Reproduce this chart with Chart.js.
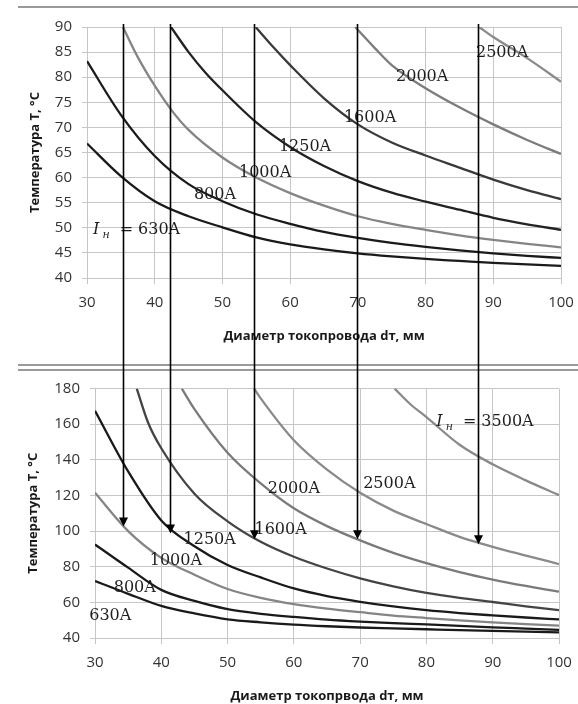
<!DOCTYPE html>
<html>
<head>
<meta charset="utf-8">
<script src="https://cdn.jsdelivr.net/npm/chart.js@4.4.1/dist/chart.umd.min.js"></script>
<style>
  html, body { margin: 0; padding: 0; background: #fff; }
  #page { position: relative; width: 578px; height: 704px; overflow: hidden; background: #fff; }
  .rule { position: absolute; left: 18px; right: 0; height: 2px; background: #9a9a9a; }
  canvas { position: absolute; left: 0; }
</style>
</head>
<body>
<div id="page">
  <div class="rule" style="top:6px"></div>
  <div class="rule" style="top:364px"></div>
  <div class="rule" style="top:369px"></div>
  <canvas id="topC" width="578" height="352" style="top:0px"></canvas>
  <canvas id="botC" width="578" height="344" style="top:360px"></canvas>
  <canvas id="ov" style="top:0px;width:578px;height:704px;pointer-events:none"></canvas>
</div>
<script>
// ---------------- DATA ----------------
// Top chart (T, °C vs d, mm)
const topXTicks = [30, 40, 50, 60, 70, 80, 90, 100];
const topYTicks = [40, 45, 50, 55, 60, 65, 70, 75, 80, 85, 90];
const stdX = [30, 35, 40, 45, 50, 55, 60, 65, 70, 75, 80, 85, 90, 95, 100];

const top630X = stdX;
const top630T = [66.8, 60.3, 55.3, 52.3, 50.1, 48.1, 46.7, 45.7, 44.9, 44.3, 43.8, 43.4, 43.0, 42.7, 42.4];
const top800X = stdX;
const top800T = [83.2, 72.5, 64.3, 58.7, 55.3, 52.7, 50.8, 49.2, 48.0, 47.0, 46.2, 45.5, 44.9, 44.4, 44.0];
const top1000X = [35.3, 37.5, 40, 42.5, 45, 50, 55, 60, 65, 70, 75, 80, 85, 90, 95, 100];
const top1000T = [90, 84.0, 78.3, 73.4, 69.5, 64.0, 60.0, 56.9, 54.4, 52.3, 50.8, 49.6, 48.5, 47.6, 46.8, 46.1];
const top1250X = [42.4, 45, 47.5, 50, 55, 60, 65, 70, 75, 80, 85, 90, 95, 100];
const top1250T = [90, 85.0, 80.9, 77.4, 71.0, 66.1, 62.3, 59.3, 57.0, 55.2, 53.6, 52.0, 50.7, 49.6];
const top1600X = [54.9, 57.5, 60, 65, 70, 75, 80, 85, 90, 95, 100];
const top1600T = [90, 86.0, 82.4, 75.8, 70.6, 67.0, 64.4, 62.0, 59.6, 57.5, 55.7];
const top2000X = [69.6, 72.5, 75, 80, 85, 90, 95, 100];
const top2000T = [90, 85.8, 82.4, 77.8, 74.0, 70.6, 67.5, 64.7];
const top2500X = [87.9, 90, 95, 100];
const top2500T = [90, 88.0, 83.8, 79.1];

const topLabelText = ['800A', '1000A', '1250A', '1600A', '2000A', '2500A'];
const topLabelX = [48.9, 56.3, 62.2, 71.8, 79.5, 91.3];
const topLabelT = [56.5, 60.9, 66.1, 71.9, 80.0, 84.8];
const topMainLabel = { x: 30.9, t: 49.6, value: '630A' };

// Bottom chart
const botXTicks = [30, 40, 50, 60, 70, 80, 90, 100];
const botYTicks = [40, 60, 80, 100, 120, 140, 160, 180];

const bot630X = stdX;
const bot630T = [72.0, 64.8, 58.0, 53.8, 50.5, 48.8, 47.5, 46.6, 45.9, 45.4, 44.9, 44.4, 44.0, 43.6, 43.2];
const bot800X = stdX;
const bot800T = [92.5, 79.5, 67.0, 60.8, 56.2, 53.6, 51.8, 50.3, 49.2, 48.3, 47.6, 46.8, 46.0, 45.3, 44.6];
const bot1000X = stdX;
const bot1000T = [121.5, 100.0, 85.0, 75.5, 67.5, 62.5, 59.0, 56.5, 54.5, 52.6, 51.2, 49.9, 48.8, 47.8, 46.9];
const bot1250X = stdX;
const bot1250T = [167.5, 133.5, 106.0, 91.5, 81.0, 74.0, 67.8, 63.5, 60.3, 57.7, 55.6, 54.0, 52.7, 51.5, 50.4];
const bot1600X = [36.3, 38, 40, 45, 50, 55, 60, 65, 70, 75, 80, 85, 90, 95, 100];
const bot1600T = [180, 161, 146.5, 121, 105.5, 94.0, 85.6, 79.0, 73.5, 69.0, 65.3, 62.5, 60.2, 57.8, 55.6];
const bot2000X = [43.1, 45, 50, 55, 60, 65, 70, 75, 80, 85, 90, 95, 100];
const bot2000T = [180, 168.5, 144.0, 126.8, 112.8, 102.8, 94.8, 87.8, 82.0, 77.0, 72.8, 69.2, 66.0];
const bot2500X = [54, 55, 60, 65, 70, 75, 80, 85, 90, 95, 100];
const bot2500T = [180, 174.5, 151, 134.5, 121.5, 111.5, 104, 96.8, 91.2, 86.3, 81.5];
const bot3500X = [75.2, 77.5, 80, 85, 90, 95, 100];
const bot3500T = [180, 171.5, 164, 148.5, 137.5, 128.5, 120.2];

const botLabelText = ['630A', '800A', '1000A', '1250A', '1600A', '2000A', '2500A'];
const botLabelX = [32.3, 36.0, 42.2, 47.3, 58.0, 60.0, 74.4];
const botLabelT = [52.2, 68.3, 83.5, 95.3, 100.7, 124.0, 126.3];
const botMainLabel = { x: 81.5, t: 161.4, value: '3500A' };

// Arrows: x in top-chart units, tip in bottom-chart °C
const arrowX = [35.3, 42.3, 54.7, 69.9, 87.8];
const arrowTipT = [102.6, 98.6, 95.4, 95.4, 92.6];

// ---------------- STYLE ----------------
const BLACK = '#1a1a1a', DARK = '#3a3a3a', GREY = '#858585';
const GRID = '#c6c6c6';
const tickFont = { family: '"Open Sans", "DejaVu Sans", sans-serif', size: 15 };
const titleFont = { family: '"Open Sans", "DejaVu Sans", sans-serif', size: 13, weight: 'bold' };
const SERIF = '"DejaVu Serif", "Liberation Serif", serif';

const labelPlugin = {
  id: 'curveLabels',
  afterDatasetsDraw(chart, args, o) {
    const { ctx } = chart;
    const xs = chart.scales.x, ys = chart.scales.y;
    ctx.save();
    ctx.fillStyle = '#1e1e1e';
    ctx.textBaseline = 'middle';
    ctx.textAlign = 'center';
    ctx.font = '16px ' + SERIF;
    o.texts.forEach((t, i) => {
      ctx.fillText(t, xs.getPixelForValue(o.xs[i]), ys.getPixelForValue(o.ts[i]));
    });
    // "I_н = ..." label
    const m = o.main;
    let px = xs.getPixelForValue(m.x);
    const py = ys.getPixelForValue(m.t);
    ctx.textAlign = 'left';
    ctx.font = 'italic 16px ' + SERIF;
    ctx.fillText('I', px, py);
    px += ctx.measureText('I').width + 3;
    ctx.font = 'italic 11px ' + SERIF;
    ctx.fillText('н', px, py + 5);
    px += ctx.measureText('н').width + 10;
    ctx.font = '16px ' + SERIF;
    ctx.fillText('=', px, py);
    px += ctx.measureText('=').width + 5;
    ctx.fillText(m.value, px, py);
    ctx.restore();
  }
};

function ds(xArr, tArr, color) {
  return {
    data: xArr.map((v, i) => ({ x: v, y: tArr[i] })),
    borderColor: color, borderWidth: 2.3, pointRadius: 0, fill: false,
    cubicInterpolationMode: 'monotone'
  };
}

function makeChart(canvas, c) {
  return new Chart(canvas, {
    type: 'line',
    data: { datasets: c.datasets },
    options: {
      responsive: false, animation: false, events: [],
      layout: { padding: { left: 0, top: c.padTop, right: c.padRight, bottom: 0 } },
      plugins: { legend: { display: false }, tooltip: { enabled: false }, curveLabels: c.labels },
      scales: {
        x: {
          type: 'linear', min: 30, max: 100,
          afterBuildTicks: s => { s.ticks = c.xTicks.map(v => ({ value: v })); },
          afterFit: s => { s.height = c.xAxisH; },
          grid: { color: GRID, tickLength: c.xTickLen, tickBorderDash: [5, 60] },
          border: { color: GRID },
          ticks: { font: tickFont, color: '#333', padding: 0, maxRotation: 0, autoSkip: false },
          title: { display: true, text: c.xTitle, font: titleFont, color: '#1a1a1a', padding: { top: 0, bottom: c.xTitlePad } }
        },
        y: {
          type: 'linear', min: c.yMin, max: c.yMax,
          afterBuildTicks: s => { s.ticks = c.yTicks.map(v => ({ value: v })); },
          afterFit: s => { s.width = c.yAxisW; },
          grid: { color: GRID, tickLength: 5 },
          border: { color: GRID },
          ticks: { font: tickFont, color: '#333', padding: 10 },
          title: { display: true, text: 'Температура Т, °С', font: titleFont, color: '#1a1a1a', padding: { top: c.yTitlePad, bottom: 0 } }
        }
      }
    },
    plugins: [labelPlugin]
  });
}

const topCanvas = document.getElementById('topC');
const botCanvas = document.getElementById('botC');

const topChart = makeChart(topCanvas, {
  datasets: [
    ds(top630X, top630T, BLACK), ds(top800X, top800T, BLACK), ds(top1000X, top1000T, GREY),
    ds(top1250X, top1250T, '#222'), ds(top1600X, top1600T, DARK), ds(top2000X, top2000T, '#7c7c7c'),
    ds(top2500X, top2500T, '#8a8a8a')
  ],
  labels: { texts: topLabelText, xs: topLabelX, ts: topLabelT, main: topMainLabel },
  xTicks: topXTicks, yTicks: topYTicks, yMin: 40, yMax: 90,
  padTop: 27, padRight: 17, yAxisW: 87, xAxisH: 74, xTickLen: 16, xTitlePad: 8, yTitlePad: 27,
  xTitle: 'Диаметр токопровода dт, мм'
});

const botChart = makeChart(botCanvas, {
  datasets: [
    ds(bot630X, bot630T, BLACK), ds(bot800X, bot800T, BLACK), ds(bot1000X, bot1000T, GREY),
    ds(bot1250X, bot1250T, BLACK), ds(bot1600X, bot1600T, '#444'), ds(bot2000X, bot2000T, '#7a7a7a'),
    ds(bot2500X, bot2500T, '#8a8a8a'), ds(bot3500X, bot3500T, '#8a8a8a')
  ],
  labels: { texts: botLabelText, xs: botLabelX, ts: botLabelT, main: botMainLabel },
  xTicks: botXTicks, yTicks: botYTicks, yMin: 40, yMax: 180,
  padTop: 28.6, padRight: 19, yAxisW: 95, xAxisH: 66, xTickLen: 16, xTitlePad: 0, yTitlePad: 25.5,
  xTitle: 'Диаметр токопрвода dт, мм'
});

// ---------------- ARROWS (overlay) ----------------
(function drawArrows() {
  const ov = document.getElementById('ov');
  const dpr = window.devicePixelRatio || 1;
  ov.width = 578 * dpr; ov.height = 704 * dpr;
  const ctx = ov.getContext('2d');
  ctx.scale(dpr, dpr);
  ctx.strokeStyle = '#000';
  ctx.fillStyle = '#000';
  ctx.lineWidth = 1.6;
  const y0 = topChart.scales.y.getPixelForValue(90) - 3 + topCanvas.offsetTop;
  arrowX.forEach((xv, i) => {
    const px = Math.round(topChart.scales.x.getPixelForValue(xv) + topCanvas.offsetLeft) + 0.5;
    const tip = botChart.scales.y.getPixelForValue(arrowTipT[i]) + botCanvas.offsetTop;
    ctx.beginPath();
    ctx.moveTo(px, y0);
    ctx.lineTo(px, tip - 7);
    ctx.stroke();
    ctx.beginPath();
    ctx.moveTo(px - 4.5, tip - 9);
    ctx.lineTo(px + 4.5, tip - 9);
    ctx.lineTo(px, tip);
    ctx.closePath();
    ctx.fill();
  });
})();
</script>
</body>
</html>
